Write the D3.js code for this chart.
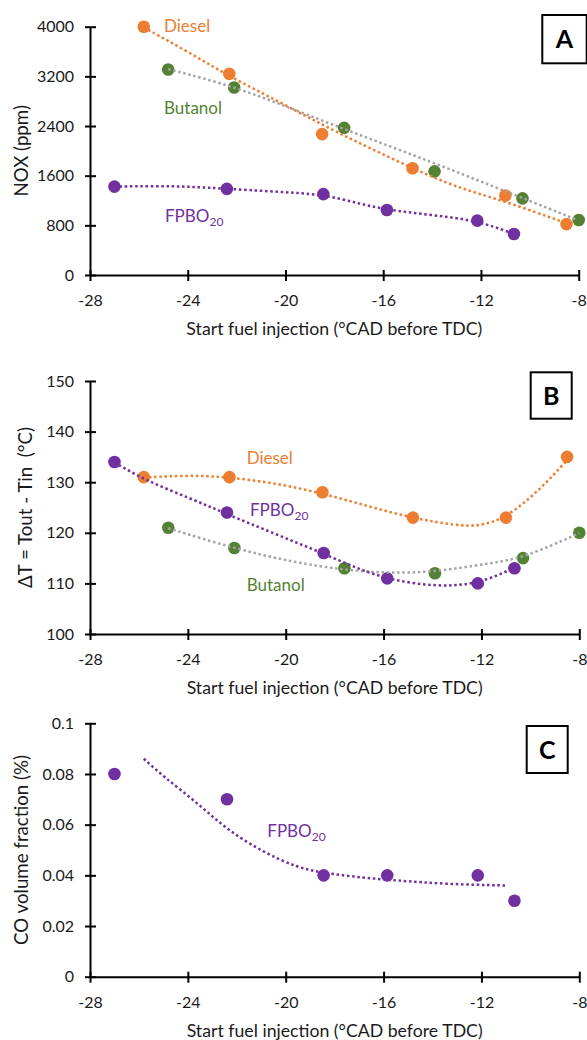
<!DOCTYPE html>
<html>
<head>
<meta charset="utf-8">
<script src="https://cdn.jsdelivr.net/npm/d3@7"></script>
<style>
    body { margin: 0; background: #ffffff; }
</style>
</head>
<body>
<div id="chart"></div>
<script>
"use strict";

// start of fuel injection (°CAD before TDC) for each fuel
const injectionTicks = [-28, -24, -20, -16, -12, -8];
const dieselStart  = [-25.8, -22.3, -18.5, -14.8, -11.0, -8.5];
const butanolStart = [-24.8, -22.1, -17.6, -13.9, -10.3, -8.0];
const fpboStart    = [-27.0, -22.4, -18.45, -15.85, -12.15, -10.65];

// A : NOX (ppm)
const noxTicks   = [0, 800, 1600, 2400, 3200, 4000];
const noxDiesel  = [4000, 3240, 2270, 1720, 1280, 820];
const noxButanol = [3310, 3020, 2370, 1670, 1235, 885];
const noxFpbo    = [1424, 1387, 1303, 1048, 876, 660];

// A : trendlines
const noxDieselTrendX  = [-25.8, -23.9, -22.3, -20.4, -18.5, -16.7, -14.8, -13.0, -11.1, -8.5];
const noxDieselTrendY  = [3990, 3575, 3200, 2820, 2420, 2070, 1720, 1410, 1200, 834];
const noxButanolTrendX = [-24.8, -22.1, -19.8, -17.6, -15.7, -13.9, -12.1, -10.35, -8.05];
const noxButanolTrendY = [3318, 3037, 2688, 2350, 2069, 1801, 1521, 1247, 887];
const noxFpboTrendX    = [-27.0, -25.3, -23.9, -22.45, -20.5, -18.45, -17.1, -15.85, -14.0, -12.15, -10.65];
const noxFpboTrendY    = [1424, 1435, 1424, 1390, 1345, 1300, 1160, 1050, 965, 880, 660];

// B : delta T (°C)
const dtTicks   = [100, 110, 120, 130, 140, 150];
const dtDiesel  = [131, 131, 128, 123, 123, 135];
const dtButanol = [121, 117, 113, 112, 115, 120];
const dtFpbo    = [134, 124, 116, 111, 110, 113];

const dtDieselTrendX  = [-25.8, -23.9, -22.3, -20.4, -18.5, -16.6, -14.8, -13.0, -12.1, -11.0, -9.6, -8.4];
const dtDieselTrendY  = [130.9, 131.4, 131.0, 129.8, 127.8, 125.2, 122.9, 121.4, 121.3, 122.9, 128.5, 134.9];
const dtButanolTrendX = [-24.8, -22.1, -19.8, -17.6, -15.7, -13.8, -11.65, -10.3, -8.0];
const dtButanolTrendY = [120.9, 116.9, 114.3, 112.6, 112.0, 112.3, 114.0, 115.0, 119.9];
const dtFpboTrendX    = [-27.0, -25.75, -23.9, -22.5, -20.5, -18.45, -17.1, -15.75, -13.8, -12.1, -10.7];
const dtFpboTrendY    = [133.9, 130.4, 126.8, 123.9, 119.9, 115.9, 113.0, 110.7, 109.3, 109.9, 113.0];

// C : CO volume fraction (%)
const coTicks = [0, 0.02, 0.04, 0.06, 0.08, 0.1];
const coFpbo  = [0.08, 0.07, 0.04, 0.04, 0.04, 0.03];
const coFpboTrendX = [-25.8, -25.0, -23.6, -22.4, -20.9, -19.5, -18.5, -16.8, -15.5, -13.4, -11.0];
const coFpboTrendY = [0.086, 0.079, 0.0685, 0.058, 0.049, 0.043, 0.041, 0.039, 0.038, 0.0365, 0.036];

const xTitle = "Start fuel injection (°CAD before TDC)";

const font = "Lato, 'Open Sans', sans-serif";
const orange = "#ED7D31", green = "#548235", purple = "#7030A0", grey = "#A5A5A5";

const zip = (xs, ys) => xs.map((v, i) => [v, ys[i]]);

const panels = [
    {
        letter: "A", yDomain: [0, 4000], yTicks: noxTicks, yTitle: "NOX (ppm)",
        left: 90, right: 578.7, top: 26.7, bottom: 275, yTitleX: 28,
        box: { x: 542.3, y: 15, w: 44.4, h: 48.3 },
        series: [
            { pts: zip(dieselStart, noxDiesel), trend: zip(noxDieselTrendX, noxDieselTrendY), fill: orange, line: orange },
            { pts: zip(butanolStart, noxButanol), trend: zip(noxButanolTrendX, noxButanolTrendY), fill: green, line: grey },
            { pts: zip(fpboStart, noxFpbo), trend: zip(noxFpboTrendX, noxFpboTrendY), fill: purple, line: purple }
        ],
        labels: [
            { text: "Diesel", x: 164, y: 31.7, color: orange },
            { text: "Butanol", x: 164, y: 114, color: green },
            { text: "FPBO", sub: "20", x: 165, y: 221.7, color: purple }
        ]
    },
    {
        letter: "B", yDomain: [100, 150], yTicks: dtTicks, yTitle: "\u0394T = Tout - Tin  (°C)",
        left: 90, right: 579.3, top: 381, bottom: 634, yTitleX: 32,
        box: { x: 530.7, y: 372.3, w: 41, h: 46.4 },
        series: [
            { pts: zip(dieselStart, dtDiesel), trend: zip(dtDieselTrendX, dtDieselTrendY), fill: orange, line: orange },
            { pts: zip(butanolStart, dtButanol), trend: zip(dtButanolTrendX, dtButanolTrendY), fill: green, line: grey },
            { pts: zip(fpboStart, dtFpbo), trend: zip(dtFpboTrendX, dtFpboTrendY), fill: purple, line: purple }
        ],
        labels: [
            { text: "Diesel", x: 246.7, y: 464, color: orange },
            { text: "FPBO", sub: "20", x: 250, y: 516, color: purple },
            { text: "Butanol", x: 246.7, y: 591, color: green }
        ]
    },
    {
        letter: "C", yDomain: [0, 0.1], yTicks: coTicks, yTitle: "CO volume fraction (%)",
        left: 90, right: 579.3, top: 723.3, bottom: 976.7, yTitleX: 28,
        box: { x: 526.7, y: 726, w: 41, h: 47 },
        series: [
            { pts: zip(fpboStart, coFpbo), trend: zip(coFpboTrendX, coFpboTrendY), fill: purple, line: purple }
        ],
        labels: [
            { text: "FPBO", sub: "20", x: 267.3, y: 837.3, color: purple }
        ]
    }
];

const svg = d3.select("#chart")
    .append("svg")
    .attr("width", 587)
    .attr("height", 1040);

svg.append("rect")
    .attr("width", 587)
    .attr("height", 1040)
    .attr("fill", "#ffffff");

panels.forEach(drawPanel);

function drawPanel(p) {

    const x = d3.scaleLinear().domain([-28, -8]).range([p.left, p.right]);
    const y = d3.scaleLinear().domain(p.yDomain).range([p.bottom, p.top]);

    const g = svg.append("g");

    // y axis, ticks crossing the axis line
    const yAxis = g.append("g")
        .attr("transform", "translate(" + p.left + ",0)")
        .call(d3.axisLeft(y).tickValues(p.yTicks).tickFormat(d => String(d)).tickSizeOuter(0))
        .attr("font-family", font)
        .attr("font-size", 16);

    yAxis.select(".domain").attr("stroke", "#000").attr("stroke-width", 2);
    yAxis.selectAll(".tick line").attr("x1", 6).attr("x2", -5).attr("stroke", "#000").attr("stroke-width", 2);
    yAxis.selectAll(".tick text").attr("x", -16).attr("fill", "#1a1a1a");

    // x axis
    const xAxis = g.append("g")
        .attr("transform", "translate(0," + p.bottom + ")")
        .call(d3.axisBottom(x).tickValues(injectionTicks).tickFormat(d => String(d)).tickSizeOuter(0))
        .attr("font-family", font)
        .attr("font-size", 16);

    xAxis.select(".domain").attr("stroke", "#000").attr("stroke-width", 2);
    xAxis.selectAll(".tick line").attr("y1", -5).attr("y2", 6).attr("stroke", "#000").attr("stroke-width", 2);
    xAxis.selectAll(".tick text").attr("y", 20).attr("fill", "#1a1a1a");

    // axis titles
    g.append("text")
        .attr("x", (p.left + p.right) / 2)
        .attr("y", p.bottom + 60)
        .attr("text-anchor", "middle")
        .attr("font-family", font)
        .attr("font-size", 17.7)
        .attr("fill", "#1a1a1a")
        .text(xTitle);

    g.append("text")
        .attr("transform", "translate(" + p.yTitleX + "," + ((p.top + p.bottom) / 2) + ") rotate(-90)")
        .attr("text-anchor", "middle")
        .attr("font-family", font)
        .attr("font-size", 18.7)
        .attr("fill", "#1a1a1a")
        .style("white-space", "pre")
        .text(p.yTitle);

    // markers first, Excel puts trendlines on top of them
    p.series.forEach(s => {
        g.append("g")
            .selectAll("circle")
            .data(s.pts)
            .join("circle")
            .attr("cx", d => x(d[0]))
            .attr("cy", d => y(d[1]))
            .attr("r", 6.3)
            .attr("fill", s.fill);
    });

    p.series.forEach(s => {
        g.append("path")
            .datum(s.trend)
            .attr("fill", "none")
            .attr("stroke", s.line)
            .attr("stroke-width", 2.5)
            .attr("stroke-dasharray", "2.5,2.7")
            .attr("d", d3.line()
                .curve(d3.curveBasis)
                .x(d => x(d[0]))
                .y(d => y(d[1]))
            );
    });

    // series names
    p.labels.forEach(l => {
        const t = g.append("text")
            .attr("x", l.x)
            .attr("y", l.y)
            .attr("font-family", font)
            .attr("font-size", 17)
            .attr("fill", l.color)
            .text(l.text);
        if (l.sub) {
            t.append("tspan")
                .attr("dy", 4)
                .attr("font-size", 12)
                .text(l.sub);
        }
    });

    // panel letter
    g.append("rect")
        .attr("x", p.box.x)
        .attr("y", p.box.y)
        .attr("width", p.box.w)
        .attr("height", p.box.h)
        .attr("fill", "#ffffff")
        .attr("stroke", "#000")
        .attr("stroke-width", 2);

    g.append("text")
        .attr("x", p.box.x + p.box.w / 2)
        .attr("y", p.box.y + p.box.h / 2 + 9)
        .attr("text-anchor", "middle")
        .attr("font-family", font)
        .attr("font-weight", "bold")
        .attr("font-size", 25)
        .attr("fill", "#000")
        .text(p.letter);
}
</script>
</body>
</html>
